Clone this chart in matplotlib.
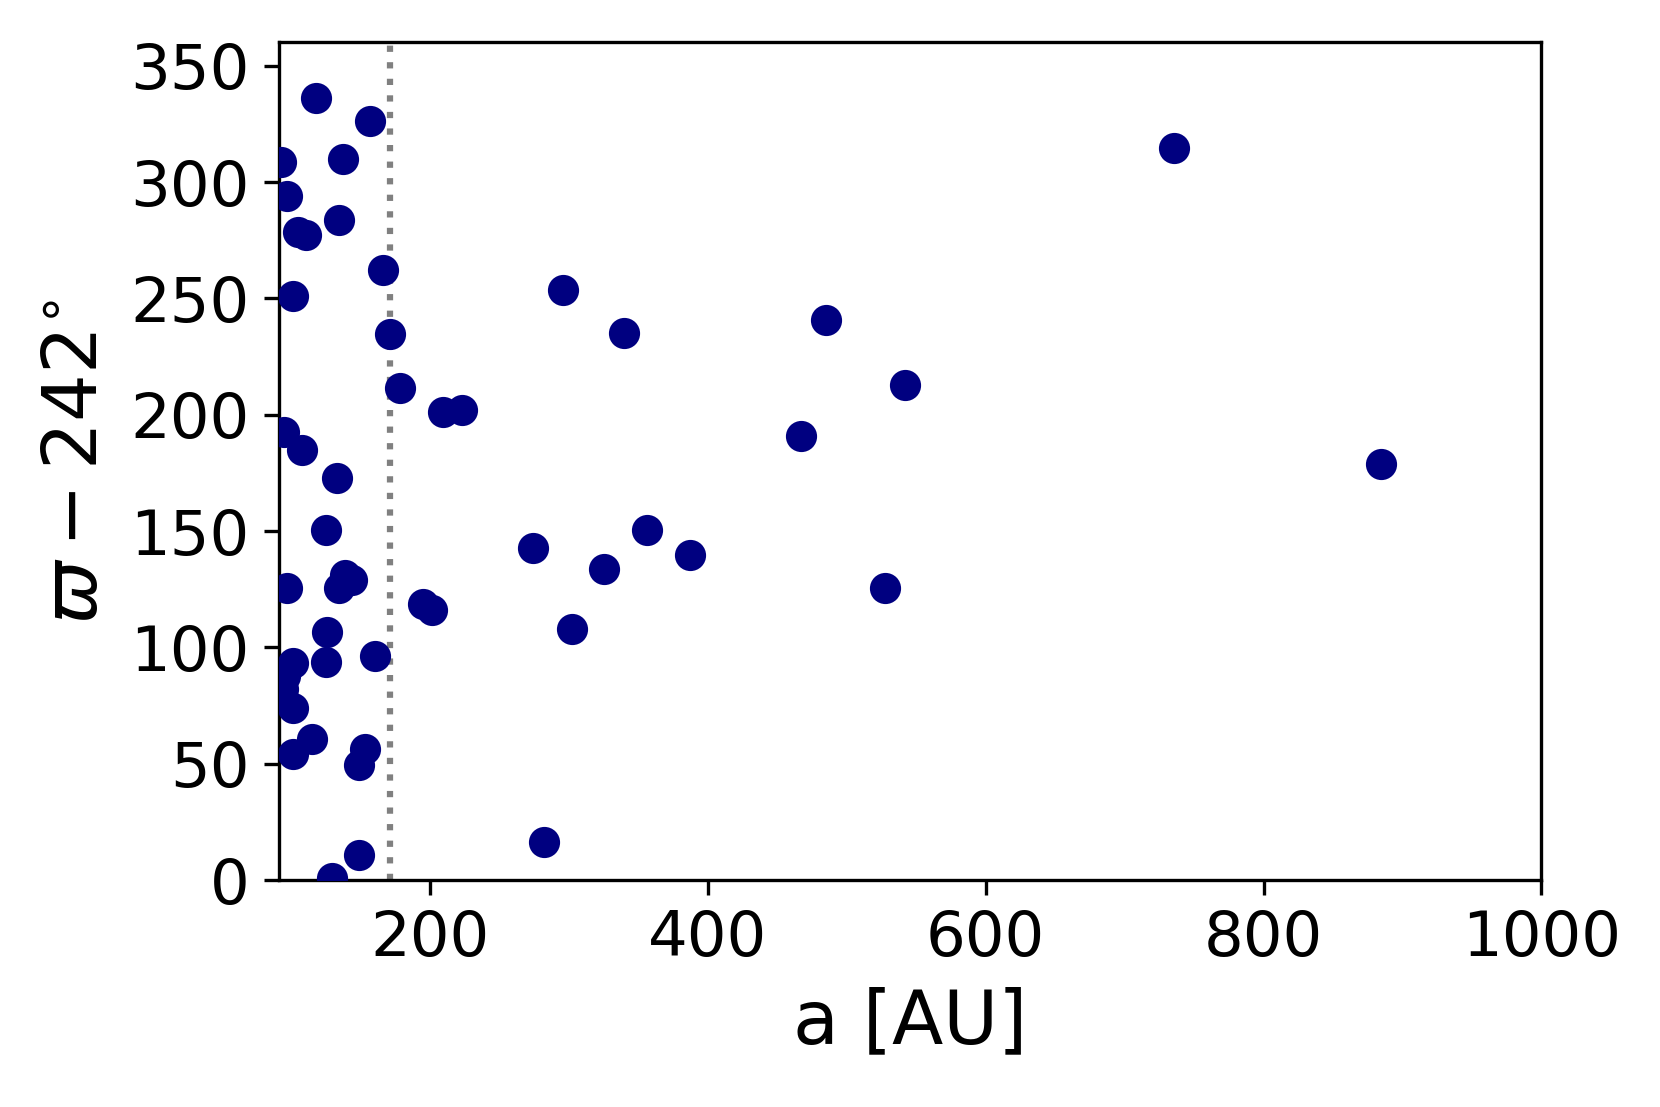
import matplotlib
matplotlib.use("Agg")
import matplotlib.pyplot as plt
import numpy as np

# semi-major axis [AU] and longitude of perihelion minus 242 deg
a_au = np.array([
    117.6, 156.7, 92.6, 137.5, 97.2, 105.1, 110.4, 134.4, 166.3, 101.1,
    171.1, 178.3, 209.1, 222.7, 94.8, 108.0, 133.2, 124.8, 138.7, 143.6,
    134.6, 97.2, 195.1, 201.6, 126.0, 101.5, 124.8, 160.3, 95.3, 94.0,
    101.1, 114.8, 101.5, 153.1, 149.0, 149.0, 129.6,
    295.9, 339.8, 485.0, 541.9, 467.4, 355.9, 274.3, 387.1, 325.2,
    527.5, 302.4, 735.6, 884.6, 282.4,
])
varpi = np.array([
    336.0, 326.4, 308.4, 309.8, 294.1, 278.5, 277.4, 283.8, 262.3, 251.1,
    234.8, 211.4, 201.2, 202.1, 192.4, 184.8, 172.8, 150.5, 131.2, 129.0,
    125.5, 125.5, 118.7, 115.9, 106.7, 93.3, 93.7, 96.5, 87.5, 82.0,
    73.9, 60.6, 54.1, 56.3, 49.5, 10.9, 0.9,
    253.4, 235.3, 240.5, 212.8, 190.9, 150.5, 142.5, 139.8, 133.8,
    125.5, 108.1, 314.8, 178.9, 16.4,
])
a_cut = 171.5

fig = plt.figure(figsize=(16.61 / 3, 11.07 / 3), dpi=300)
ax = fig.add_subplot(111)
fig.subplots_adjust(left=0.1677, right=0.928, top=0.9617, bottom=0.205)

ax.scatter(a_au, varpi, s=42, color="navy", zorder=3)
ax.axvline(a_cut, color="gray", linestyle=":", linewidth=1.5)

ax.set_xlim((91, 1000))
ax.set_ylim((0, 360))
ax.set_xticks([200, 400, 600, 800, 1000])
ax.set_yticks(np.arange(0, 351, 50))
ax.tick_params(labelsize=15)

ax.set_xlabel("a [AU]", fontsize=18)
ax.set_ylabel(r"$\varpi - 242^{\circ}$", fontsize=18)

fig.savefig("out.png", dpi=300)
